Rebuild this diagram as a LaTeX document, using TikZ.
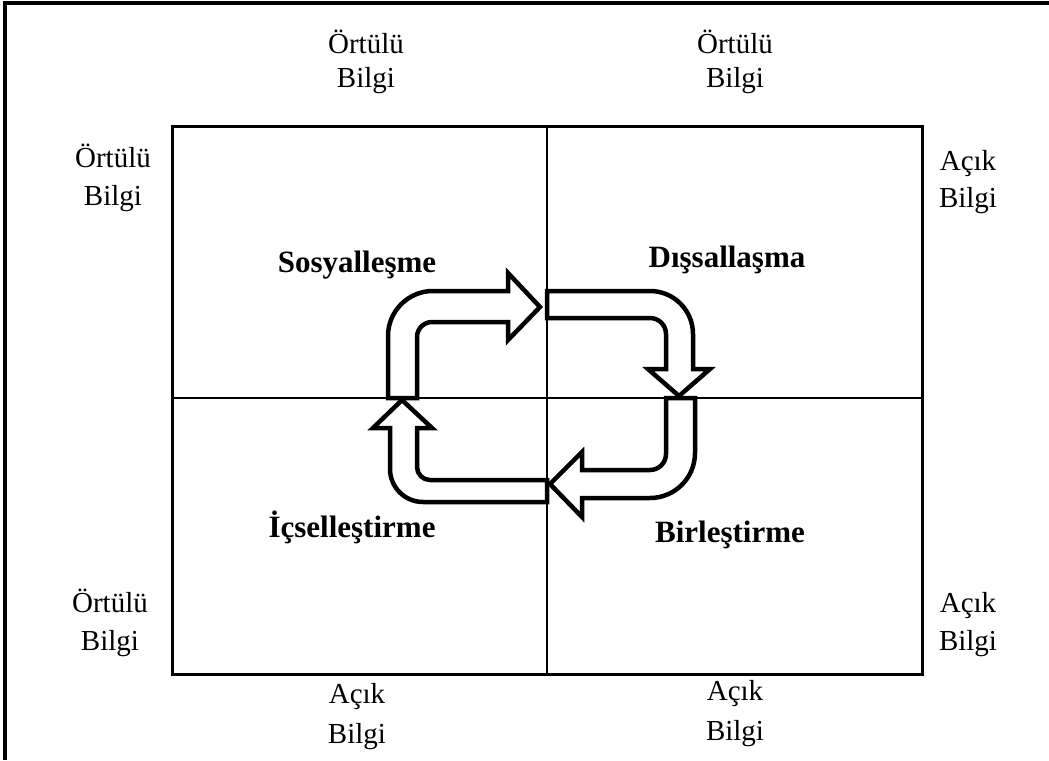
\documentclass[tikz,border=0pt]{standalone}
\usepackage{fontspec}
\setmainfont{Liberation Serif}
\begin{document}
\begin{tikzpicture}[x=1pt,y=1pt,
  lbl/.style={anchor=base,inner sep=0pt,font=\fontsize{29}{35}\selectfont},
  blbl/.style={anchor=base,inner sep=0pt,font=\fontsize{31}{37}\selectfont\bfseries},
  gridline/.style={line width=2.5pt},
  arr/.style={line width=4.5pt,fill=white,line join=miter}]
\useasboundingbox (0,0) rectangle (1049,-760);
% outer frame (top and left edges visible)
\draw[line width=4pt] (1049,-3) -- (5,-3) -- (5,-760);
% grid
\draw[gridline,line width=3pt] (172,-126) rectangle (922,-674);
\coordinate (vt) at (547,-126); \coordinate (vb) at (547,-674);
\coordinate (hl) at (172,-398); \coordinate (hr) at (922,-398);
\draw[gridline] (vt) -- (vb);
\draw[gridline] (hl) -- (hr);
% arrows
\draw[arr] (388,-398) -- (388,-336) arc[start angle=180,end angle=90,radius=45]
  -- (508,-291) -- (508,-273) -- (540,-307) -- (508,-340) -- (508,-322)
  -- (432,-322) arc[start angle=90,end angle=180,radius=15] -- (417,-398) -- cycle;
\draw[arr] (547,-291) -- (650,-291) arc[start angle=90,end angle=0,radius=43]
  -- (693,-369) -- (710,-369) -- (679,-396) -- (648,-369) -- (666,-369)
  -- (666,-334) arc[start angle=0,end angle=90,radius=16] -- (547,-318) -- cycle;
\draw[arr] (695,-398) -- (695,-453) arc[start angle=0,end angle=-90,radius=45]
  -- (582,-498) -- (582,-517) -- (550,-484) -- (582,-452) -- (582,-470)
  -- (650,-470) arc[start angle=-90,end angle=0,radius=16] -- (666,-398) -- cycle;
\draw[arr] (547,-502) -- (423,-502) arc[start angle=-90,end angle=-180,radius=33]
  -- (390,-428) -- (373,-428) -- (402,-400) -- (432,-428) -- (417,-428)
  -- (417,-467) arc[start angle=180,end angle=270,radius=13] -- (547,-480) -- cycle;
% bold quadrant labels
\node[blbl] (sos) at (357,-272) {Sosyalleşme};
\node[blbl] (dis) at (727,-267) {Dışsallaşma};
\node[blbl] (ics) at (352,-537) {İçselleştirme};
\node[blbl] (bir) at (730,-542) {Birleştirme};
% side labels
\node[lbl] (t1a) at (366,-53) {Örtülü};
\node[lbl] (t1b) at (366,-87) {Bilgi};
\node[lbl] (t2a) at (735,-53) {Örtülü};
\node[lbl] (t2b) at (735,-87) {Bilgi};
\node[lbl] (l1a) at (113,-167) {Örtülü};
\node[lbl] (l1b) at (113,-205) {Bilgi};
\node[lbl] (r1a) at (968,-170) {Açık};
\node[lbl] (r1b) at (968,-207) {Bilgi};
\node[lbl] (l2a) at (110,-612) {Örtülü};
\node[lbl] (l2b) at (110,-650) {Bilgi};
\node[lbl] (r2a) at (968,-612) {Açık};
\node[lbl] (r2b) at (968,-650) {Bilgi};
\node[lbl] (b1a) at (357,-703) {Açık};
\node[lbl] (b1b) at (357,-743) {Bilgi};
\node[lbl] (b2a) at (735,-700) {Açık};
\node[lbl] (b2b) at (735,-740) {Bilgi};
\end{tikzpicture}
\end{document}
